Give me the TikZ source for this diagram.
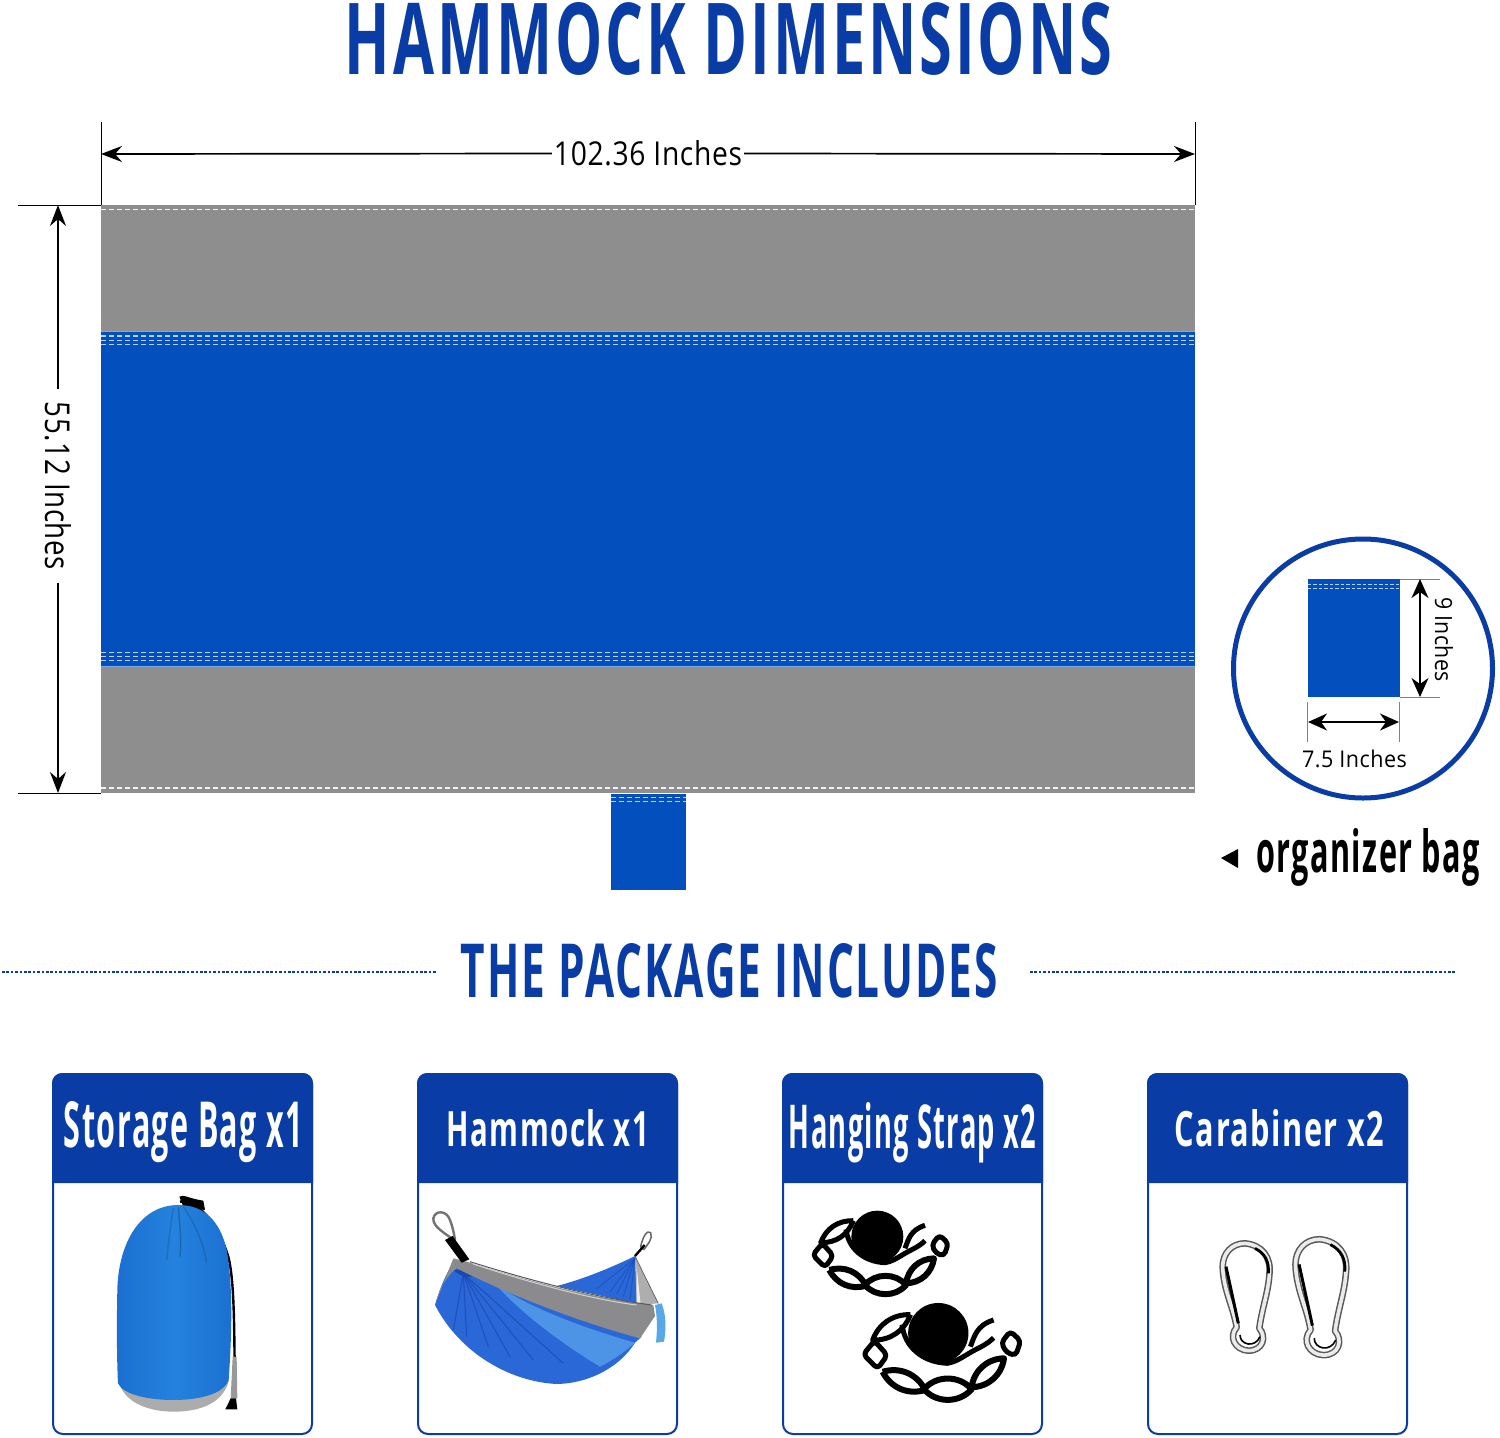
\documentclass[tikz,border=0pt]{standalone}
\usepackage{fontspec}
\usepackage{graphicx}
\usetikzlibrary{arrows.meta}
\newfontfamily\dinb[FakeStretch=0.62,LetterSpace=3]{Open Sans}
\newfontfamily\dinr[FakeStretch=0.85,LetterSpace=2]{Open Sans}
\definecolor{titleblue}{HTML}{0A3CA6}
\definecolor{clothblue}{HTML}{034FBE}
\definecolor{clothgray}{HTML}{8E8E8E}
\definecolor{bagblue}{HTML}{1B6FD0}
\definecolor{baglight}{HTML}{2482DE}
\definecolor{hamblue}{HTML}{2A68D8}
\definecolor{hamlight}{HTML}{4E94E6}
\definecolor{hamdark}{HTML}{1A48B0}
\definecolor{hamgray}{HTML}{8B8B8D}
\definecolor{tabblue}{HTML}{58A8E8}
\definecolor{stitchblue}{HTML}{B4D2F4}
\newcommand\fitbox[3]{\resizebox{#1pt}{#2pt}{#3}}
\tikzset{
  lbl/.style={inner sep=0pt,text=black},
  dimline/.style={draw=black,line width=1.7pt},
  bigtip/.style={-{Stealth[length=21pt,width=16pt,inset=7pt]}},
  extline/.style={draw=black,line width=0.9pt},
  extgray/.style={draw=black!50,line width=1pt},
  stitchw/.style={draw=white!90!gray,line width=1.2pt,dash pattern=on 5pt off 3pt},
  stitchb/.style={draw=stitchblue,line width=1.3pt,dash pattern=on 5pt off 3pt},
  cardout/.style={draw=titleblue,line width=2pt,rounded corners=10pt,fill=white},
  cardhead/.style={fill=titleblue},
  carab1/.style={draw=black!65,line width=6.6pt,line join=round},
  carab2/.style={draw=black!8,line width=3.6pt,line join=round},
  link/.style={draw=black,fill=white,line width=#1,line join=round},
  link/.default=6pt,
}
\newcommand\card[6]{% name,x,width,height,text,text position
  \draw[cardout] (#2,1074) rectangle ++(259,360);
  \fill[cardhead] (#2-1,1183) [rounded corners=10pt] -- (#2-1,1073) -- (#2+260,1073) [sharp corners] -- (#2+260,1183) -- cycle;
  \node[inner sep=0pt,text=white] (#1) at (#6) {\fitbox{#3}{#4}{\dinb\bfseries #5}};
}
\newcommand\strapdraw{%
  \draw[link=5pt] (190,92) to[bend left=35] (92,158) to[bend left=35] (190,92);
  \draw[link=5pt,rounded corners=4pt] (97,160) -- (130,197) -- (105,232) -- (68,195) -- cycle;
  \draw[link] (118,240) to[bend left=40] (228,287) to[bend left=40] (118,240);
  \draw[link] (225,285) to[bend left=50] (348,285) to[bend left=50] (225,285);
  \draw[link] (348,280) to[bend left=40] (432,205) to[bend left=40] (348,280);
  \draw[link=5pt,rounded corners=4pt] (425,165) -- (448,135) -- (475,160) -- (462,198) -- (438,190) -- cycle;
  \fill[black] (262,140) circle [radius=78];
  \draw[black,line width=5pt] (168,118) .. controls (175,175) and (220,215) .. (285,218) .. controls (305,215) and (320,205) .. (345,190) .. controls (365,178) and (385,172) .. (405,152);
  \draw[black,line width=5pt] (345,175) .. controls (355,150) and (360,120) .. (405,106);
}
\newcommand\carabiner{%
  \foreach \st in {carab1,carab2}{%
    \draw[\st] (135,70) .. controls (185,75) and (215,110) .. (208,165) .. controls (205,215) and (185,270) .. (178,325) .. controls (200,350) and (190,392) .. (145,392) .. controls (105,390) and (85,350) .. (110,322) .. controls (100,260) and (70,210) .. (68,140) .. controls (68,100) and (95,70) .. (135,70) -- cycle;
  }
  \draw[black,line width=3pt] (78,140) -- (115,310);
  \draw[black,line width=2.8pt] (165,85) .. controls (195,100) and (208,125) .. (205,160);
  \draw[black,line width=1.6pt] (120,345) .. controls (120,375) and (165,385) .. (180,350);
}
\begin{document}
\begin{tikzpicture}[x=1pt,y=-1pt]
\useasboundingbox (0,0) rectangle (1500,1438);
\fill[white] (0,0) rectangle (1500,1438);

% Titles
\node[inner sep=0pt,text=titleblue] (title) at (728.5,39) {\fitbox{767}{72}{\dinb\bfseries HAMMOCK DIMENSIONS}};
\node[inner sep=0pt,text=titleblue] (pkg) at (729.5,971) {\fitbox{537}{54}{\dinb\bfseries THE PACKAGE INCLUDES}};
\coordinate (dl1) at (2,972);
\coordinate (dr2) at (1455,972);
\coordinate (dl2) at (436,972);
\coordinate (dr1) at (1030,972);
\draw[titleblue,line width=1.1pt,dash pattern=on 2.6pt off 1.8pt] (dl1) -- (dl2);
\draw[titleblue,line width=1.1pt,dash pattern=on 2.6pt off 1.8pt] (dr1) -- (dr2);

% Hammock plan
\fill[clothgray] (101,205) rectangle (1195,331);
\fill[clothblue] (101,331) rectangle (1195,667);
\fill[clothgray] (101,667) rectangle (1195,793);
\draw[stitchblue,line width=0.8pt,opacity=.7] (101,331.5) -- (1195,331.5);
\draw[stitchblue,line width=0.8pt,opacity=.7] (101,666.5) -- (1195,666.5);
\draw[stitchw] (101,209.5) -- (1195,209.5);
\draw[stitchw] (101,788) -- (1195,788);
\foreach \yy in {336,340.5,344.5,652.7,656.7,660.7}{\draw[stitchb] (101,\yy) -- (1195,\yy);}
\fill[clothblue] (610.7,794) rectangle (685.7,890);
\draw[stitchb] (610.7,797.7) -- (685.7,797.7);
\draw[stitchb] (610.7,801.3) -- (685.7,801.3);

% Top dimension
\coordinate (ta) at (101,154);
\coordinate (tb) at (1195,154);
\draw[extline] (101,122) -- (101,205);
\draw[extline] (1195,122) -- (1195,205);
\node[lbl,fill=white,inner xsep=2pt] (wlab) at (648,153.5) {\fitbox{188}{25}{\dinr 102.36 Inches}};
\draw[dimline,bigtip] (wlab.west) -- (ta);
\draw[dimline,bigtip] (wlab.east) -- (tb);

% Left dimension
\coordinate (la) at (58,205);
\coordinate (lb) at (58,793);
\draw[extline] (18,205) -- (101,205);
\draw[extline] (18,793.5) -- (101,793.5);
\node[lbl,fill=white,rotate=-90,inner xsep=13pt] (hlab) at (58,486) {\fitbox{168}{26}{\dinr 55.12 Inches}};
\draw[dimline,bigtip] (hlab.west) -- (la);
\draw[dimline,bigtip] (hlab.east) -- (lb);

% Organizer bag circle
\node[draw=titleblue,line width=5pt,circle,minimum size=259pt,inner sep=0pt] (circ) at (1363,668.5) {};
\fill[clothblue] (1307.5,579) rectangle (1400,697);
\draw[stitchb,line width=1pt,dash pattern=on 3.5pt off 2pt] (1307.5,584.5) -- (1400,584.5);
\draw[stitchb,line width=1pt,dash pattern=on 3.5pt off 2pt] (1307.5,588) -- (1400,588);
\draw[extgray] (1400,579) -- (1440,579);
\draw[extgray] (1400,697.5) -- (1440,697.5);
\draw[extgray] (1307.5,702) -- (1307.5,742);
\draw[extgray] (1399,702) -- (1399,742);
\coordinate (ba) at (1420,579);
\coordinate (bb) at (1420,697);
\coordinate (bc) at (1308,722);
\coordinate (bd) at (1399,722);
\draw[dimline,{Stealth[length=19pt,width=17pt,inset=6pt]}-{Stealth[length=19pt,width=17pt,inset=6pt]}] (ba) -- (bb);
\draw[dimline,{Stealth[length=19pt,width=17pt,inset=6pt]}-{Stealth[length=19pt,width=17pt,inset=6pt]}] (bc) -- (bd);
\node[lbl,rotate=-90] (nine) at (1444,639.5) {\fitbox{85}{18}{\dinr 9 Inches}};
\node[lbl] (seven) at (1354.5,759) {\fitbox{105}{17.5}{\dinr 7.5 Inches}};
\node[lbl] (org) at (1368,857) {\fitbox{224}{44}{\dinb\bfseries organizer bag}};
\coordinate (tri) at (1221,858);
\fill[black] (tri) -- (1238,849) -- (1238,868) -- cycle;

% Cards
\card{c1}{53}{239}{46}{Storage Bag x1}{183.5,1132.5}
\card{c2}{418}{202}{37}{Hammock x1}{548,1128.5}
\card{c3}{783}{247}{46}{Hanging Strap x2}{912.5,1132.5}
\card{c4}{1148}{209}{37}{Carabiner x2}{1279.5,1128.5}

% Storage bag
\begin{scope}[shift={(40,1070)},scale=1/3]
  \draw[black,line width=2.4pt] (420,395) .. controls (470,390) and (530,450) .. (565,560) .. controls (585,640) and (582,800) .. (585,950);
  \fill[black] (418,380) .. controls (430,372) and (445,385) .. (490,392) -- (495,420) -- (430,410) -- cycle;
  \fill[gray!80] (578,860) -- (590,860) -- (592,985) -- (572,985) -- cycle;
  \fill[black] (572,985) -- (588,985) -- (592,1018) -- (556,1018) -- cycle;
  \fill[gray!65] (235,930) .. controls (250,1000) and (330,1025) .. (400,1025) .. controls (480,1025) and (550,1000) .. (567,930) -- cycle;
  \shade[left color=bagblue,right color=bagblue,middle color=baglight] (415,405) .. controls (300,405) and (235,520) .. (232,660) .. controls (230,750) and (230,860) .. (234,940) .. controls (250,975) and (330,990) .. (400,990) .. controls (470,990) and (550,975) .. (566,930) .. controls (575,800) and (580,650) .. (560,540) .. controls (540,450) and (490,405) .. (415,405) -- cycle;
  \draw[black,opacity=.12,line width=1.6pt] (400,415) .. controls (390,480) and (385,520) .. (380,570);
  \draw[black,opacity=.2,line width=1.4pt] (415,412) .. controls (420,470) and (425,520) .. (420,560);
  \draw[black,opacity=.14,line width=1.4pt] (430,410) .. controls (470,470) and (490,520) .. (500,580);
\end{scope}

% Hammock picture
\begin{scope}[shift={(410,1190)},scale=1/3]
  % far side
  \fill[hamblue] (440,288) .. controls (530,265) and (620,225) .. (675,198) -- (682,345) .. controls (600,320) and (510,305) .. (440,288) -- cycle;
  \fill[hamgray!70] (675,198) .. controls (700,250) and (725,300) .. (745,340) -- (680,345) -- cycle;
  \fill[white!85!gray] (680,230) -- (692,345) -- (680,345) -- cycle;
  \draw[black!60,line width=.8pt] (675,198) .. controls (700,250) and (725,300) .. (745,340);
  \foreach \a/\b in {620/312,640/320,600/305,560/296,660/330}{\draw[hamdark,opacity=.6,line width=1pt] (675,205) -- (\a,\b);}
  % tab
  \fill[tabblue] (735,345) -- (755,340) .. controls (770,380) and (768,420) .. (762,455) -- (738,458) .. controls (742,420) and (742,380) .. (735,345) -- cycle;
  % main body
  \fill[hamblue] (75,345) .. controls (90,290) and (115,240) .. (130,215) -- (200,225) .. controls (340,300) and (520,380) .. (695,440) -- (675,458) .. controls (630,530) and (540,580) .. (440,582) .. controls (300,575) and (150,490) .. (75,345) -- cycle;
  \fill[hamlight] (250,275) .. controls (340,350) and (540,420) .. (675,458) .. controls (640,490) and (600,515) .. (570,530) .. controls (470,470) and (330,370) .. (250,275) -- cycle;
  \foreach \a/\b in {130/420,170/440,235/470,300/500,370/510,460/520}{\draw[hamdark,line width=1.1pt,opacity=.7] (160,250) -- (\a,\b);}
  \fill[hamdark] (130,240) .. controls (160,235) and (190,245) .. (200,255) .. controls (180,265) and (150,260) .. (130,240) -- cycle;
  \fill[hamgray] (130,205) -- (75,345) -- (90,300) .. controls (105,270) and (125,245) .. (140,235) -- cycle;
  % gray band
  \fill[hamgray] (130,205) -- (170,215) .. controls (330,265) and (540,325) .. (730,345) -- (735,378) -- (690,445) .. controls (560,410) and (350,340) .. (140,235) -- cycle;
  \draw[black!65,line width=1pt] (180,215) .. controls (340,265) and (540,320) .. (725,345);
  \draw[gray!35,line width=1pt] (190,222) .. controls (340,272) and (540,328) .. (680,345);
  % carabiners and straps
  \draw[black!55,line width=2.4pt] (132,150) .. controls (105,130) and (68,110) .. (70,85) .. controls (75,60) and (110,60) .. (120,90) .. controls (128,110) and (132,130) .. (135,150);
  \fill[black] (105,150) -- (128,138) -- (178,208) -- (155,218) -- cycle;
  \draw[black!60,line width=1.5pt] (692,170) .. controls (698,140) and (712,118) .. (722,128) .. controls (730,145) and (712,165) .. (702,178) -- cycle;
  \draw[black,line width=2.4pt] (675,198) -- (704,165);
\end{scope}

% Hanging straps
\begin{scope}[shift={(790,1190)},scale=1/3]
  \strapdraw
\end{scope}
\begin{scope}[shift={(837,1279)},scale=1.16/3]
  \strapdraw
\end{scope}

% Carabiners
\begin{scope}[shift={(1200,1220)},scale=1/3]
  \carabiner
\end{scope}
\begin{scope}[shift={(1271,1214)},scale=1.08/3]
  \carabiner
\end{scope}
\end{tikzpicture}
\end{document}
